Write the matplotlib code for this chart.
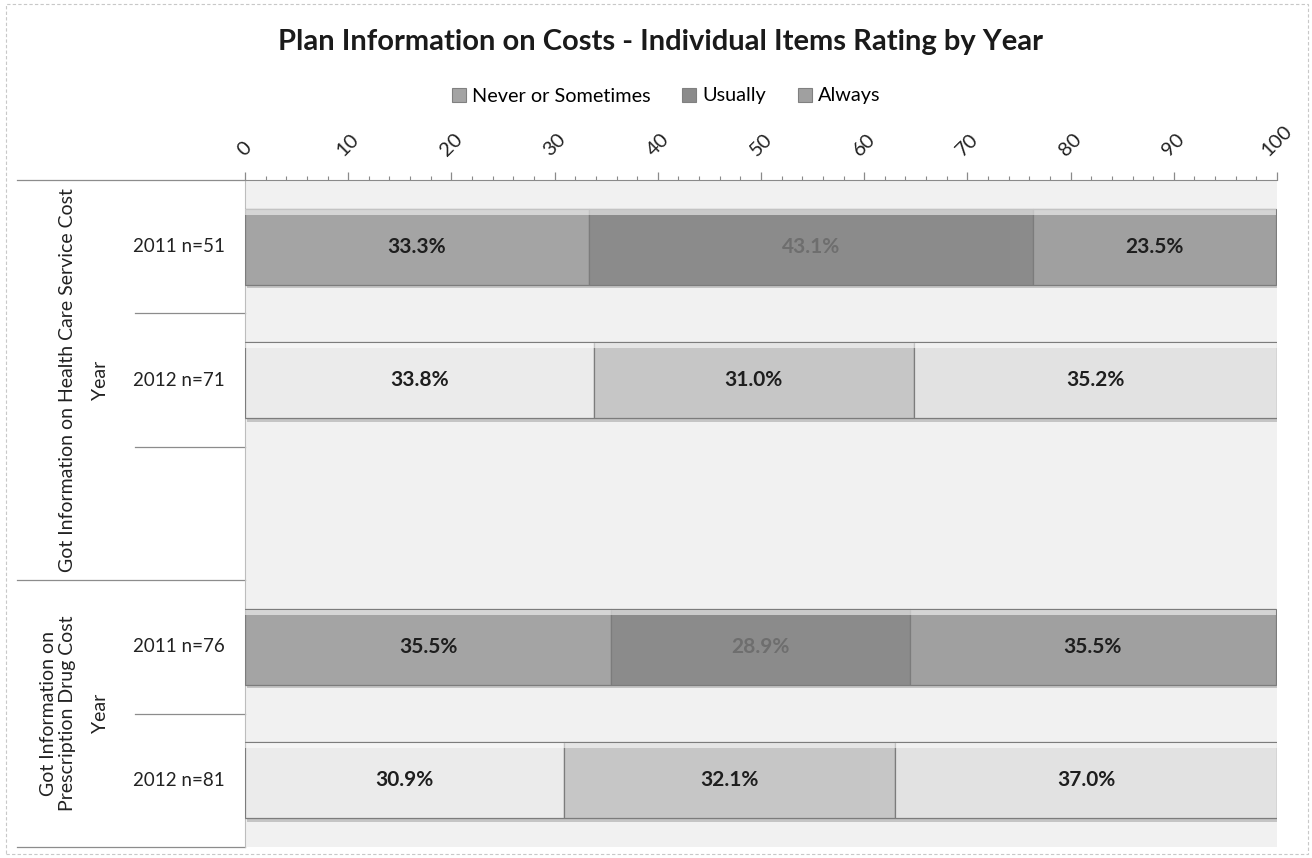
import matplotlib
matplotlib.use("Agg")
import matplotlib.pyplot as plt
from matplotlib.patches import Rectangle
from matplotlib.lines import Line2D
import matplotlib.patheffects as pe

plt.rcParams["font.family"] = ["Lato", "DejaVu Sans"]

# ---- data -------------------------------------------------------------
title = "Plan Information on Costs - Individual Items Rating by Year"
series_names = ["Never or Sometimes", "Usually", "Always"]
group_labels = ["Got Information on Health Care Service Cost",
                "Got Information on\nPrescription Drug Cost"]
row_labels = ["2011 n=51", "2012 n=71", "2011 n=76", "2012 n=81"]
never_or_sometimes = [33.3, 33.8, 35.5, 30.9]
usually = [43.1, 31.0, 28.9, 32.1]
always = [23.5, 35.2, 35.5, 37.0]
x_ticks = [0, 10, 20, 30, 40, 50, 60, 70, 80, 90, 100]

# ---- layout / styling -------------------------------------------------
row_slots = [0, 1, 3, 4]          # slot 2 is an empty spacer in group 1
group_slots = [(0, 2), (3, 4)]     # first/last slot of each group
group_label_px = [68, 58]          # x centre of the outer group labels
bar_h = 0.57
fill_2011 = ["#a4a4a4", "#8b8b8b", "#a0a0a0"]
fill_2012 = ["#ebebeb", "#c6c6c6", "#e2e2e2"]
row_fills = [fill_2011, fill_2012, fill_2011, fill_2012]
label_dark = "#1e1e1e"
label_muted = "#6e6e6e"

W, H = 1312, 858
fig = plt.figure(figsize=(W / 100, H / 100), dpi=100)
fig.patch.set_facecolor("white")

x0, x1, y0, y1 = 245, 1277, 180, 847
ax = fig.add_axes([x0 / W, 1 - y1 / H, (x1 - x0) / W, (y1 - y0) / H])
ax.set_facecolor("#f1f1f1")
ax.set_xlim(0, 100)
ax.set_ylim(4.5, -0.5)

series = [never_or_sometimes, usually, always]
lefts = [0.0] * len(row_labels)
for si, vals in enumerate(series):
    colors = [row_fills[r][si] for r in range(len(row_labels))]
    bars = ax.barh(row_slots, vals, left=lefts, height=bar_h, color=colors,
                   edgecolor="#7c7c7c", linewidth=0.9, zorder=3)
    for b in bars:
        b.set_path_effects([pe.SimplePatchShadow(offset=(1.5, -2.5),
                                                 shadow_rgbFace="#9a9a9a",
                                                 alpha=0.5),
                            pe.Normal()])
    # bevel highlight along the top edge of each segment
    ax.barh([s - bar_h / 2 + 0.025 for s in row_slots], vals, left=lefts,
            height=0.04, color="white", alpha=0.55, linewidth=0, zorder=4)
    for r, (v, l) in enumerate(zip(vals, lefts)):
        muted = row_fills[r][si] == fill_2011[1]
        ax.text(l + v / 2, row_slots[r], f"{v:.1f}%", ha="center",
                va="center", fontsize=15, fontweight="bold",
                color=label_muted if muted else label_dark, zorder=5)
    lefts = [l + v for l, v in zip(lefts, vals)]

# top value axis
ax.xaxis.tick_top()
ax.set_xticks(x_ticks)
ax.set_xticklabels([str(t) for t in x_ticks], rotation=45, fontsize=14.5,
                   color="#222222")
ax.set_xticks(list(range(0, 101, 2)), minor=True)
ax.tick_params(axis="x", which="major", length=6, width=0.9,
               color="#8a8a8a", pad=9)
ax.tick_params(axis="x", which="minor", length=3, width=0.8,
               color="#8a8a8a")
ax.set_yticks([])
for side in ["right", "bottom"]:
    ax.spines[side].set_visible(False)
ax.spines["top"].set_color("#8a8a8a")
ax.spines["left"].set_color("#bdbdbd")
ax.spines["left"].set_linewidth(0.8)

# category labels on the left
ytr = ax.get_yaxis_transform()
def ax_x(px):
    return (px - x0) / (x1 - x0)

for lab, s in zip(row_labels, row_slots):
    ax.text(ax_x(225), s, lab, transform=ytr, ha="right", va="center",
            fontsize=13.5, color="#222222", clip_on=False)

for (g0, g1), lab, gx in zip(group_slots, group_labels, group_label_px):
    mid = (g0 + g1) / 2
    ax.text(ax_x(101), mid, "Year", transform=ytr, ha="center",
            va="center", rotation=90, fontsize=14, color="#222222",
            clip_on=False)
    ax.text(ax_x(gx), mid, lab, transform=ytr, ha="center", va="center",
            rotation=90, fontsize=14, color="#222222", clip_on=False,
            linespacing=1.15, multialignment="center")

# separator lines in the label area
line_kw = dict(transform=ytr, color="#8c8c8c", linewidth=0.9,
               clip_on=False)
for (g0, g1) in group_slots:
    ax.add_line(Line2D([ax_x(17), 0], [g0 - 0.5, g0 - 0.5], **line_kw))
    for s in range(g0, g1):
        ax.add_line(Line2D([ax_x(135), 0], [s + 0.5, s + 0.5], **line_kw))
ax.add_line(Line2D([ax_x(17), 0], [4.5, 4.5], **line_kw))

# title and legend
fig.text(660 / W, 1 - 42 / H, title, ha="center", va="center",
         fontsize=21, fontweight="bold", color="#1a1a1a")
handles = [Rectangle((0, 0), 1, 1, facecolor=c, edgecolor="#808080",
                     linewidth=0.8) for c in fill_2011]
fig.legend(handles, series_names, loc="center", ncol=3,
           bbox_to_anchor=(666 / W, 1 - 96 / H), frameon=False,
           fontsize=14.3, handlelength=0.7, handleheight=0.7,
           handletextpad=0.3, columnspacing=1.6)

# outer chart border
fig.add_artist(Rectangle((6 / W, 4 / H), 1 - 10 / W, 1 - 8 / H,
                         transform=fig.transFigure, fill=False,
                         edgecolor="#c8c8c8", linewidth=0.8,
                         linestyle=(0, (3, 2))))

fig.savefig("out.png", dpi=100, facecolor="white")
